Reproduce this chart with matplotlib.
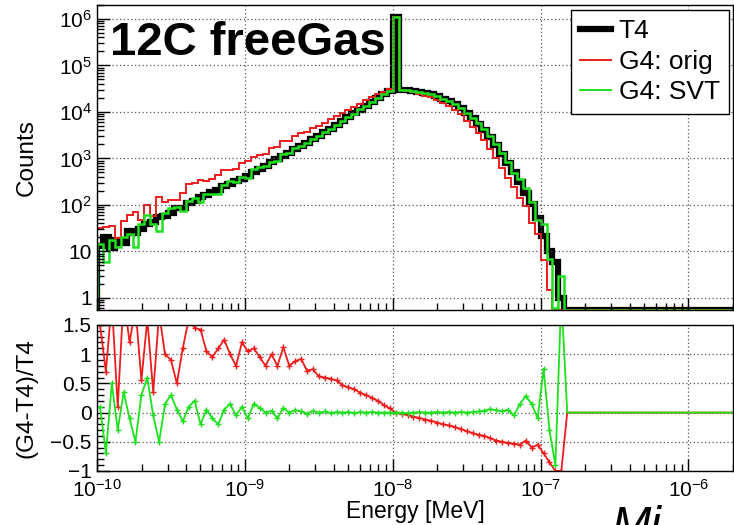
import numpy as np
import matplotlib.pyplot as plt
from matplotlib.lines import Line2D
from matplotlib.ticker import LogLocator, MultipleLocator, FuncFormatter, NullFormatter

plt.rcParams['font.family'] = ['Liberation Sans', 'DejaVu Sans']
plt.rcParams['mathtext.fontset'] = 'custom'
plt.rcParams['mathtext.rm'] = 'Liberation Sans'

# log binning, 25 bins per decade starting at 1e-10 MeV
BINS_PER_DEC = 25
N_BINS = 108

# counts per bin (T4); bins after the last one are empty
t4 = [13, 20, 12, 18, 15, 27, 25, 30, 38, 42,
      55, 58, 66, 85, 88, 110, 120, 145, 160, 190,
      210, 250, 280, 325, 370, 430, 510, 600, 700, 825,
      970, 1140, 1340, 1580, 1860, 2180, 2570, 3020, 3650, 4400,
      5300, 6400, 7730, 9330, 11250, 13600, 16400, 19800, 23900, 28800,
      1.1e6, 30000, 29400, 28700, 27000, 25400, 23900, 21700, 19400, 17000,
      14600, 12300, 9550, 7380, 5560, 4170, 2880, 1920, 1256, 809,
      514, 308, 185, 103, 53, 22, 10, 6, 1]

# (G4-T4)/T4 per bin
ratio_orig = [1.5, 0.7, 1.9, 0.1, 2.0, 1.2, 1.8, 0.55, 1.6, 0.35,
              1.7, 1.0, 0.9, 0.5, 1.1, 1.6, 1.45, 1.42, 1.05, 0.95,
              1.1, 1.25, 1.0, 0.8, 1.2, 1.05, 1.1, 0.95, 0.8, 1.0,
              0.8, 1.12, 0.8, 0.88, 0.92, 0.72, 0.74, 0.62, 0.6, 0.58,
              0.55, 0.47, 0.43, 0.4, 0.34, 0.3, 0.25, 0.2, 0.13, 0.07,
              0.0, -0.02, -0.04, -0.07, -0.09, -0.12, -0.14, -0.17, -0.2, -0.22,
              -0.25, -0.28, -0.32, -0.35, -0.38, -0.4, -0.44, -0.48, -0.5, -0.52,
              -0.53, -0.55, -0.48, -0.6, -0.55, -0.7, -0.85, -1.0, -1.0]
ratio_svt = [0.1, -0.7, 0.5, -0.3, 0.35, -0.1, -0.5, 0.3, 0.6, -0.05,
             -0.5, 0.15, 0.3, 0.05, -0.15, 0.1, 0.2, -0.2, 0.05, -0.1,
             -0.2, 0.05, 0.15, -0.05, 0.1, -0.1, 0.15, 0.08, 0.0, 0.03,
             -0.1, 0.08, 0.0, 0.04, 0.02, -0.02, 0.03, 0.0, 0.02, -0.01,
             0.01, 0.0, 0.01, -0.01, 0.01, 0.0, 0.01, 0.0, 0.0, 0.0,
             0.0, 0.0, -0.01, 0.0, 0.01, 0.0, 0.0, 0.01, 0.0, 0.01,
             0.0, 0.01, 0.0, 0.01, 0.02, 0.03, 0.06, 0.04, 0.02, 0.05,
             -0.05, 0.15, 0.28, 0.15, -0.1, 0.75, -0.3, -0.9, 2.0]

labels = ["T4", "G4: orig", "G4: SVT"]
RED = '#ee1c1c'
GREEN = '#1fe01f'

edges = 10.0 ** (-10 + np.arange(N_BINS + 1) / BINS_PER_DEC)
centers = np.sqrt(edges[:-1] * edges[1:])
n = len(t4)
pad = np.zeros(N_BINS - n)
t4_f = np.concatenate([t4, pad])
r_orig = np.concatenate([ratio_orig, pad])
r_svt = np.concatenate([ratio_svt, pad])
orig_f = t4_f * (1 + r_orig)
svt_f = t4_f * (1 + r_svt)

YMIN, YMAX = 0.55, 2.0e6
floor = 0.56

fig = plt.figure(figsize=(7.34, 5.25), dpi=100)
ax1 = fig.add_axes([0.1322, 0.4095, 0.8664, 0.581])
ax2 = fig.add_axes([0.1322, 0.1029, 0.8664, 0.2781], sharex=ax1)

ax1.stairs(np.maximum(t4_f, floor), edges, baseline=floor, color='black', lw=4.5)
ax1.stairs(np.maximum(orig_f, floor), edges, baseline=floor, color=RED, lw=1.4)
ax1.stairs(np.maximum(svt_f, floor), edges, baseline=floor, color=GREEN, lw=1.8)

ax1.set_xscale('log')
ax1.set_yscale('log')
ax1.set_xlim(1e-10, 2e-6)
ax1.set_ylim(YMIN, YMAX)

ax2.plot(centers, r_orig, color=RED, lw=1.3, marker='+', ms=5, mew=1.0,
         markevery=list(range(n)))
ax2.plot(centers, r_svt, color=GREEN, lw=1.3, marker='+', ms=5, mew=1.0,
         markevery=list(range(n)))
ax2.set_ylim(-1, 1.5)


def yfmt(v, pos):
    e = int(round(np.log10(v)))
    if e == 0:
        return '1'
    if e == 1:
        return '10'
    return r'$\mathdefault{10^{%d}}$' % e


def rfmt(v, pos):
    s = '%g' % v
    return s.replace('-', '\u2212')


for ax in (ax1, ax2):
    ax.xaxis.set_major_locator(LogLocator(base=10, numticks=20))
    ax.xaxis.set_minor_locator(LogLocator(base=10, subs=range(2, 10), numticks=20))
    ax.tick_params(which='both', direction='in', top=False, right=False,
                   labelsize=15, width=1)
    ax.tick_params(which='major', length=9)
    ax.tick_params(which='minor', length=5)
    ax.grid(True, which='major', linestyle=(0, (1, 2)), color='#555555', lw=0.9)
    for s in ax.spines.values():
        s.set_linewidth(1)

ax1.yaxis.set_major_locator(LogLocator(base=10, numticks=20))
ax1.yaxis.set_minor_locator(LogLocator(base=10, subs=range(2, 10), numticks=20))
ax1.yaxis.set_major_formatter(FuncFormatter(yfmt))
ax1.yaxis.set_minor_formatter(NullFormatter())
plt.setp(ax1.get_xticklabels(), visible=False)

ax2.yaxis.set_major_locator(MultipleLocator(0.5))
ax2.yaxis.set_minor_locator(MultipleLocator(0.1))
ax2.yaxis.set_major_formatter(FuncFormatter(rfmt))
ax2.tick_params(axis='x', pad=6)
ax2.tick_params(axis='y', pad=4)

ax1.set_ylabel("Counts", fontsize=17.5)
ax2.set_ylabel("(G4-T4)/T4", fontsize=17.5)
ax2.set_xlabel("Energy [MeV]", fontsize=16.5, labelpad=-1)
ax1.yaxis.set_label_coords(-0.093, 0.5)
ax2.yaxis.set_label_coords(-0.093, 0.5)

handles = [Line2D([], [], color='black', lw=4.5),
           Line2D([], [], color=RED, lw=1.4),
           Line2D([], [], color=GREEN, lw=1.4)]
leg = ax1.legend(handles, labels, loc='upper right', bbox_to_anchor=(0.993, 0.981),
                 bbox_transform=fig.transFigure, borderaxespad=0, fontsize=19,
                 fancybox=False, edgecolor='black', framealpha=1,
                 handlelength=1.15, handletextpad=0.3, labelspacing=0.25,
                 borderpad=0.35)
leg.get_frame().set_linewidth(1)

fig.text(110 / 734, 1 - 55 / 525, "12C freeGas", fontsize=34, fontweight='bold',
         va='baseline', ha='left')
fig.text(612 / 734, 1 - 505 / 525, "Mi", fontsize=34, style='italic',
         va='top', ha='left')

fig.savefig("out.png", dpi=100)
